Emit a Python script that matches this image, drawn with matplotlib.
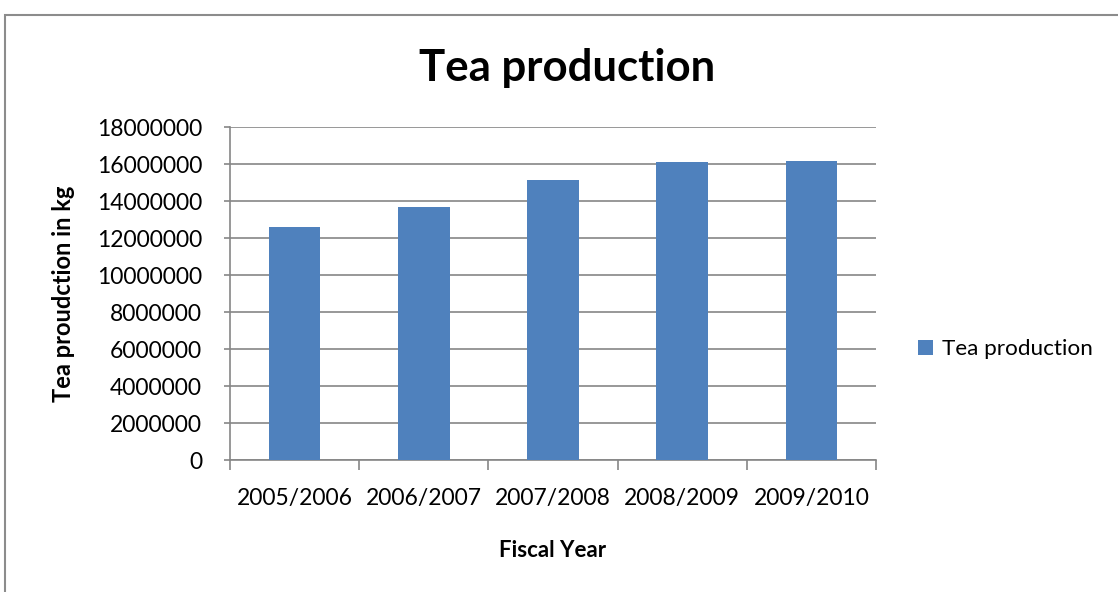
import matplotlib.pyplot as plt
from matplotlib.patches import Rectangle

years = ['2005/2006', '2006/2007', '2007/2008', '2008/2009', '2009/2010']
production = [12610000, 13690000, 15150000, 16120000, 16190000]
yticks = list(range(0, 18000001, 2000000))

plt.rcParams['font.family'] = ['Lato', 'DejaVu Sans']
grey = '#868686'
blue = '#4f81bd'

fig = plt.figure(figsize=(11.18, 5.92), dpi=100)
ax = fig.add_axes([0.2057, 0.2225, 0.5778, 0.5625])

x = list(range(len(years)))
ax.bar(x, production, width=0.4, color=blue, label='Tea production', zorder=3)
ax.set_xlim(-0.5, len(years) - 0.5)
ax.set_ylim(0, 18000000)
ax.set_yticks(yticks)
ax.set_yticklabels([str(v) for v in yticks], fontsize=16.5)
ax.yaxis.grid(True, color=grey, linewidth=1.2, zorder=0)

# category ticks sit on the boundaries, labels in the middle
ax.set_xticks([i - 0.5 for i in range(len(years) + 1)])
ax.set_xticklabels([])
ax.set_xticks(x, minor=True)
ax.set_xticklabels(years, minor=True, fontsize=16.5)
ax.tick_params(axis='x', which='major', length=7, color=grey, width=1.2, direction='out')
ax.tick_params(axis='x', which='minor', length=0, pad=20)
ax.tick_params(axis='y', length=4, color=grey, width=1.2, pad=16)

for side in ['top', 'right']:
    ax.spines[side].set_visible(False)
for side in ['left', 'bottom']:
    ax.spines[side].set_color(grey)
    ax.spines[side].set_linewidth(1.2)

ax.set_xlabel('Fiscal Year', fontsize=16, fontweight='bold', labelpad=22)
ax.set_ylabel('Tea proudction in kg', fontsize=17, fontweight='bold', labelpad=16)
fig.text(0.507, 0.885, 'Tea production', ha='center', va='center', fontsize=31.5, fontweight='bold')

fig.legend(*ax.get_legend_handles_labels(), loc='center left', bbox_to_anchor=(0.803, 0.41),
           frameon=False, fontsize=16.2, handlelength=0.68, handleheight=0.68, handletextpad=0.4)

fig.patches.append(Rectangle((5 / 1118, -0.1), 1.2, 1.1 - 15 / 592,
                             transform=fig.transFigure, fill=False, edgecolor='#8c8c8c',
                             linewidth=1.5, clip_on=False))

fig.savefig('out.png', dpi=100)
